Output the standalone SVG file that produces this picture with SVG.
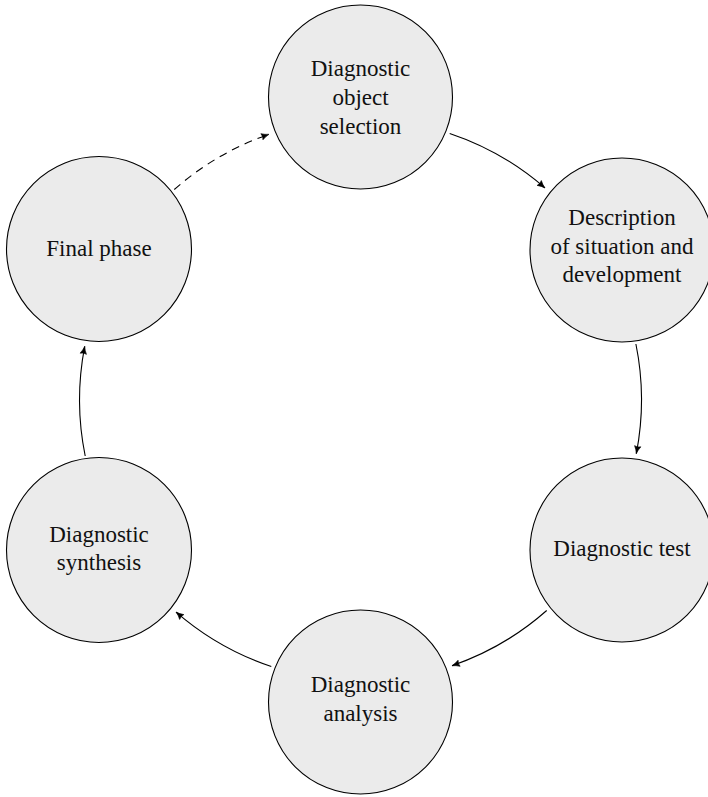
<svg xmlns="http://www.w3.org/2000/svg" width="708" height="797" viewBox="0 0 708 797">
<style>
.node circle { fill: #ebebeb; stroke: #000; stroke-width: 1.1; }
.node text { font-family: "Liberation Serif", "Times New Roman", serif; font-size: 23px; fill: #111; text-anchor: middle; }
.conn path { fill: none; stroke: #000; stroke-width: 1.1; }
.conn .dashed { stroke-dasharray: 8 6; }
</style>
<defs>
<marker id="arr" markerUnits="userSpaceOnUse" markerWidth="12" markerHeight="10" refX="10" refY="5" orient="auto" overflow="visible">
<path d="M 2.5 1.8 Q 6 4 10 5 Q 6 6 2.5 8.2 Q 4 5 2.5 1.8 Z" fill="#000" stroke="#000" stroke-width="0.6" stroke-linejoin="round"/>
</marker>
</defs>
<g id="connectors" class="conn">
<path d="M 449.7 133.5 A 281 281 0 0 1 544.9 187.9" marker-end="url(#arr)"/>
<path d="M 635.9 344.0 A 281 281 0 0 1 636.3 453.6" marker-end="url(#arr)"/>
<path d="M 546.7 610.5 A 281 281 0 0 1 452.0 665.7" marker-end="url(#arr)"/>
<path d="M 271.3 666.5 A 281 281 0 0 1 176.1 612.1" marker-end="url(#arr)"/>
<path d="M 85.2 456.0 A 281 281 0 0 1 84.7 346.4" marker-end="url(#arr)"/>
<path class="dashed" d="M 174.3 189.5 A 281 281 0 0 1 269.0 134.3" marker-end="url(#arr)"/>
</g>
<g id="node-selection" class="node">
<circle cx="360.5" cy="97" r="92"/>
<text x="360.5" y="76">Diagnostic</text>
<text x="360.5" y="105">object</text>
<text x="360.5" y="134">selection</text>
</g>
<g id="node-description" class="node">
<circle cx="622" cy="250" r="92"/>
<text x="622" y="225">Description</text>
<text x="622" y="254">of situation and</text>
<text x="622" y="282">development</text>
</g>
<g id="node-test" class="node">
<circle cx="622" cy="550" r="92"/>
<text x="622" y="556">Diagnostic test</text>
</g>
<g id="node-analysis" class="node">
<circle cx="360.5" cy="702" r="92"/>
<text x="360.5" y="692">Diagnostic</text>
<text x="360.5" y="721">analysis</text>
</g>
<g id="node-synthesis" class="node">
<circle cx="99" cy="550" r="92.5"/>
<text x="99" y="542">Diagnostic</text>
<text x="99" y="570">synthesis</text>
</g>
<g id="node-final" class="node">
<circle cx="99" cy="249" r="92.5"/>
<text x="99" y="256">Final phase</text>
</g>
</svg>
